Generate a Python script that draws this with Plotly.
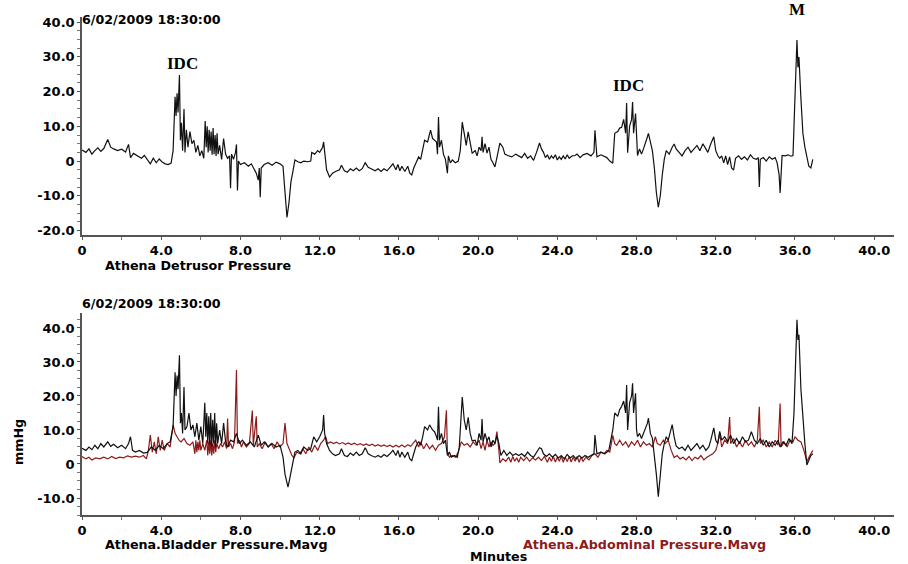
import plotly.graph_objects as go

# ---------------- data (minutes, mmHg) ----------------
det_pts = [
(0.0,3.2),(0.2,2.5),(0.35,3.5),(0.5,2.0),(0.65,3.0),(0.8,3.8),(0.95,2.8),(1.1,3.6),(1.3,6.2),(1.45,4.0),
(1.6,3.5),(1.8,3.0),(2.0,3.4),(2.2,2.6),(2.35,4.8),(2.45,1.0),(2.6,2.2),(2.8,1.5),(3.0,0.8),(3.15,1.6),
(3.3,0.2),(3.45,-0.8),(3.6,0.8),(3.75,-0.5),(3.9,0.6),(4.05,-0.3),(4.2,-0.8),(4.35,-1.0),(4.5,-0.6),(4.6,3.0),
(4.7,18.5),(4.75,13.0),(4.8,19.5),(4.85,14.0),(4.92,24.8),(4.97,6.0),(5.02,11.0),(5.08,3.0),(5.15,15.0),(5.2,2.5),
(5.27,9.0),(5.35,4.0),(5.45,8.5),(5.55,5.0),(5.65,6.0),(5.75,2.5),(5.85,4.5),(5.95,1.5),(6.05,3.0),(6.15,0.8),
(6.22,11.5),(6.27,4.0),(6.32,10.0),(6.37,2.5),(6.42,9.0),(6.47,3.0),(6.52,8.5),(6.57,1.8),(6.62,9.5),(6.67,2.0),
(6.72,7.5),(6.77,1.5),(6.82,8.0),(6.87,2.0),(6.95,4.5),(7.05,0.5),(7.15,6.5),(7.25,2.0),(7.35,0.8),(7.45,1.5),
(7.5,-7.8),(7.55,2.0),(7.65,0.5),(7.75,2.5),(7.8,4.8),(7.85,-8.5),(7.9,0.0),(8.0,-1.0),(8.2,-0.5),(8.4,-1.5),
(8.55,-0.8),(8.7,-2.5),(8.8,-3.5),(8.9,-5.5),(8.95,-2.0),(9.0,-10.4),(9.05,-2.0),(9.2,-1.0),(9.4,-0.5),(9.6,-1.2),
(9.8,-0.3),(10.0,-0.8),(10.15,-1.5),(10.25,-9.0),(10.35,-16.2),(10.45,-12.0),(10.55,-6.0),(10.65,-3.0),(10.75,0.3),(10.9,-0.2),
(11.05,-0.5),(11.2,0.0),(11.4,-0.2),(11.55,0.0),(11.6,2.5),(11.75,2.0),(11.9,3.0),(12.0,2.5),(12.15,4.0),(12.2,5.5),
(12.25,3.0),(12.35,-2.5),(12.5,-4.6),(12.65,-3.5),(12.8,-3.0),(13.0,-2.5),(13.1,-1.2),(13.25,-2.8),(13.4,-3.2),(13.55,-2.2),
(13.7,-2.8),(13.85,-2.0),(14.0,-2.8),(14.15,-2.2),(14.3,-0.5),(14.45,-1.8),(14.6,-2.2),(14.8,-2.8),(14.95,-2.2),(15.1,-3.0),
(15.25,-2.2),(15.4,-2.8),(15.55,-1.8),(15.7,-0.8),(15.85,-2.5),(15.95,-1.0),(16.05,-2.8),(16.15,-1.5),(16.3,-3.0),(16.45,-1.5),
(16.55,-3.5),(16.65,-4.0),(16.75,-2.0),(16.85,-0.5),(17.0,1.2),(17.1,0.5),(17.2,3.0),(17.3,6.0),(17.45,5.5),(17.6,8.9),
(17.7,6.5),(17.8,6.0),(17.9,5.5),(17.95,2.0),(18.0,12.7),(18.05,4.0),(18.15,6.0),(18.25,2.0),(18.35,0.5),(18.45,-3.5),
(18.5,1.5),(18.6,-0.5),(18.7,0.3),(18.85,-0.5),(19.0,0.0),(19.1,3.0),(19.2,11.2),(19.3,8.0),(19.4,4.5),(19.5,8.4),
(19.6,5.0),(19.7,2.2),(19.85,3.0),(19.95,1.5),(20.05,4.0),(20.15,3.0),(20.2,7.0),(20.25,2.5),(20.35,5.0),(20.45,2.3),
(20.55,4.0),(20.65,0.5),(20.75,-0.5),(20.85,-1.7),(20.95,1.0),(21.1,5.2),(21.25,4.0),(21.35,2.0),(21.5,1.6),(21.7,1.2),
(21.9,2.0),(22.05,1.5),(22.2,1.0),(22.35,2.2),(22.5,0.8),(22.65,1.5),(22.8,0.2),(22.95,2.5),(23.1,5.2),(23.2,3.5),
(23.3,2.5),(23.4,1.0),(23.5,1.8),(23.6,0.5),(23.7,1.5),(23.8,0.8),(23.9,1.8),(24.0,0.3),(24.1,1.2),(24.2,0.5),
(24.3,1.5),(24.4,0.6),(24.5,1.8),(24.6,0.8),(24.75,1.5),(24.9,1.6),(25.0,2.0),(25.15,1.0),(25.3,1.8),(25.5,2.2),
(25.7,1.5),(25.85,2.5),(25.9,8.9),(25.95,5.0),(26.0,1.2),(26.2,1.8),(26.35,1.4),(26.5,1.0),(26.65,0.0),(26.8,-0.6),
(26.9,8.0),(27.05,8.5),(27.15,9.5),(27.25,9.7),(27.35,12.0),(27.45,8.0),(27.5,16.7),(27.55,2.4),(27.65,10.0),(27.75,12.0),
(27.8,17.0),(27.85,8.0),(27.95,13.7),(28.0,4.0),(28.05,1.6),(28.15,3.5),(28.25,2.0),(28.35,3.5),(28.45,5.0),(28.55,7.0),
(28.6,8.0),(28.7,5.0),(28.8,3.0),(28.9,-2.0),(29.0,-9.0),(29.1,-13.3),(29.2,-10.0),(29.3,-4.0),(29.4,0.5),(29.5,3.0),
(29.65,2.0),(29.8,4.0),(29.9,4.9),(30.0,3.5),(30.15,2.6),(30.3,1.5),(30.45,3.0),(30.6,4.0),(30.75,2.5),(30.9,3.5),
(31.05,4.5),(31.2,3.0),(31.35,5.0),(31.5,3.5),(31.6,2.5),(31.75,5.0),(31.9,7.0),(32.0,3.0),(32.1,1.6),(32.2,0.8),
(32.3,1.5),(32.4,-0.5),(32.5,1.5),(32.6,-1.0),(32.7,1.2),(32.8,-2.0),(32.9,-2.6),(33.0,0.8),(33.15,1.5),(33.3,0.5),
(33.45,1.2),(33.6,0.3),(33.75,1.8),(33.9,0.8),(34.05,0.5),(34.15,1.0),(34.2,-7.5),(34.25,0.5),(34.4,1.0),(34.55,0.0),
(34.7,1.2),(34.85,0.5),(35.0,1.0),(35.1,-0.5),(35.2,-4.0),(35.25,-9.2),(35.3,-2.0),(35.35,1.6),(35.5,1.5),(35.65,1.8),
(35.8,1.4),(35.9,1.6),(35.95,10.0),(36.05,25.0),(36.1,34.9),(36.15,27.0),(36.2,30.0),(36.3,18.0),(36.4,8.0),(36.5,4.0),
(36.6,0.8),(36.7,-1.5),(36.8,-2.0),(36.9,0.5)]

bla_pts = [
(0.0,4.6),(0.2,4.0),(0.35,5.0),(0.5,4.2),(0.65,5.5),(0.8,4.5),(0.95,6.0),(1.1,5.0),(1.3,6.5),(1.45,5.2),
(1.6,5.8),(1.8,4.8),(2.0,5.5),(2.2,4.5),(2.35,6.0),(2.45,8.0),(2.55,4.0),(2.7,3.5),(2.9,4.0),(3.1,3.2),
(3.3,3.4),(3.5,5.0),(3.7,4.0),(3.9,5.5),(4.1,4.5),(4.3,6.0),(4.45,6.5),(4.6,11.0),(4.7,27.0),(4.75,20.0),
(4.8,26.0),(4.85,22.0),(4.92,32.0),(4.97,12.0),(5.02,15.0),(5.08,9.0),(5.15,22.6),(5.2,10.0),(5.3,11.0),(5.4,15.0),
(5.5,10.0),(5.6,11.5),(5.7,8.0),(5.8,12.0),(5.9,7.0),(6.0,11.0),(6.1,6.0),(6.2,18.0),(6.25,8.0),(6.3,15.0),
(6.35,6.0),(6.4,14.0),(6.45,5.5),(6.5,15.0),(6.55,5.0),(6.6,13.0),(6.65,6.0),(6.7,15.0),(6.75,5.0),(6.8,12.0),
(6.85,6.0),(6.95,10.0),(7.05,6.0),(7.15,12.0),(7.25,6.5),(7.35,5.0),(7.5,7.0),(7.65,6.5),(7.8,9.0),(7.95,6.0),
(8.1,7.0),(8.3,5.5),(8.5,6.5),(8.7,5.0),(8.9,8.5),(9.05,5.5),(9.2,6.5),(9.4,5.0),(9.6,6.0),(9.8,5.0),
(10.0,5.5),(10.15,2.0),(10.25,-3.0),(10.4,-6.8),(10.5,-4.0),(10.6,-1.0),(10.75,3.5),(10.9,4.0),(11.05,3.0),(11.2,5.0),
(11.4,4.0),(11.55,4.5),(11.7,8.0),(11.85,6.5),(12.0,8.0),(12.15,10.0),(12.2,14.4),(12.25,9.0),(12.35,6.0),(12.5,4.0),
(12.65,3.0),(12.8,2.5),(13.0,3.0),(13.1,4.5),(13.25,2.5),(13.4,2.2),(13.55,3.2),(13.7,2.5),(13.85,3.5),(14.0,2.5),
(14.15,3.0),(14.3,4.8),(14.45,3.0),(14.6,2.5),(14.8,2.0),(14.95,2.5),(15.1,2.0),(15.25,2.8),(15.4,2.2),(15.55,3.0),
(15.7,4.0),(15.85,2.5),(15.95,4.0),(16.05,2.0),(16.15,3.5),(16.3,2.0),(16.45,3.5),(16.55,1.5),(16.65,1.0),(16.75,3.0),
(16.85,5.0),(17.0,6.6),(17.1,5.5),(17.2,8.0),(17.3,11.0),(17.45,10.0),(17.55,11.5),(17.7,10.0),(17.8,9.5),(17.9,8.0),
(17.95,7.0),(18.0,16.8),(18.05,7.0),(18.15,9.0),(18.25,6.0),(18.35,7.0),(18.45,2.5),(18.55,3.5),(18.65,2.0),(18.8,2.5),
(18.95,2.0),(19.05,5.0),(19.2,19.7),(19.3,13.0),(19.4,10.0),(19.5,13.7),(19.6,9.0),(19.7,6.8),(19.85,7.0),(19.95,5.5),
(20.05,9.0),(20.15,7.0),(20.2,13.2),(20.25,6.5),(20.35,9.0),(20.45,6.8),(20.55,8.0),(20.65,5.0),(20.75,7.0),(20.85,6.0),
(20.95,8.3),(21.05,6.0),(21.15,2.5),(21.3,4.0),(21.45,2.5),(21.6,3.5),(21.75,2.5),(21.9,3.0),(22.05,2.5),(22.2,3.0),
(22.35,2.2),(22.5,3.5),(22.65,2.5),(22.8,2.0),(22.95,3.5),(23.1,4.8),(23.2,4.5),(23.3,3.0),(23.45,2.2),(23.6,3.0),
(23.75,2.0),(23.9,2.8),(24.05,1.8),(24.2,2.5),(24.35,1.5),(24.5,2.8),(24.65,1.8),(24.8,2.5),(24.95,1.5),(25.1,2.5),
(25.25,1.8),(25.4,2.5),(25.55,2.0),(25.7,2.5),(25.85,3.0),(25.9,8.5),(25.95,6.0),(26.0,3.0),(26.2,3.5),(26.4,3.0),
(26.6,4.0),(26.8,10.0),(26.9,15.0),(27.05,14.0),(27.15,16.0),(27.25,17.0),(27.35,18.5),(27.45,15.0),(27.5,23.2),(27.55,10.0),
(27.65,18.0),(27.75,20.0),(27.8,23.7),(27.85,15.0),(27.95,20.8),(28.0,10.0),(28.05,8.0),(28.15,9.0),(28.25,7.5),(28.35,9.0),
(28.45,10.0),(28.55,12.0),(28.6,13.5),(28.7,9.0),(28.8,7.6),(28.9,3.0),(29.0,-3.0),(29.1,-9.6),(29.2,-3.0),(29.3,3.0),
(29.4,6.0),(29.5,8.0),(29.6,7.0),(29.7,9.0),(29.8,11.6),(29.9,8.0),(30.0,5.3),(30.15,4.5),(30.3,5.0),(30.45,4.0),
(30.6,5.5),(30.75,4.0),(30.9,5.0),(31.05,6.0),(31.2,4.5),(31.35,5.5),(31.5,4.0),(31.65,5.0),(31.75,7.0),(31.9,10.6),
(32.0,7.0),(32.1,6.0),(32.2,9.6),(32.3,7.0),(32.45,8.0),(32.6,6.5),(32.75,8.5),(32.9,6.0),(33.05,7.5),(33.2,6.0),
(33.35,8.0),(33.5,6.5),(33.65,7.0),(33.8,9.5),(33.95,7.0),(34.1,6.0),(34.25,7.5),(34.4,5.5),(34.55,7.0),(34.7,5.0),
(34.85,6.5),(35.0,5.5),(35.15,7.0),(35.25,5.0),(35.4,6.5),(35.55,5.5),(35.7,7.5),(35.85,6.0),(35.95,15.0),(36.05,33.0),
(36.1,42.4),(36.15,36.5),(36.2,38.0),(36.3,22.0),(36.4,13.4),(36.5,6.0),(36.6,-0.3),(36.7,1.0),(36.8,2.5),(36.9,3.0)]

abd_pts = [
(0.0,2.2),(0.2,1.5),(0.35,2.0),(0.5,1.2),(0.7,1.8),(0.9,1.5),(1.1,2.0),(1.3,1.5),(1.5,2.2),(1.7,1.6),
(1.9,2.0),(2.1,1.8),(2.3,2.4),(2.5,2.0),(2.7,2.3),(2.9,2.0),(3.1,2.5),(3.25,1.5),(3.35,4.0),(3.45,8.5),
(3.55,3.5),(3.65,6.5),(3.75,3.0),(3.85,8.0),(3.95,4.0),(4.05,7.0),(4.15,4.0),(4.3,6.0),(4.45,5.0),(4.6,11.5),
(4.7,9.0),(4.8,8.0),(4.9,7.0),(5.0,6.5),(5.15,7.5),(5.3,6.0),(5.45,5.5),(5.6,6.5),(5.7,3.0),(5.75,7.0),
(5.8,3.5),(5.85,6.5),(5.9,4.0),(5.95,7.0),(6.0,4.0),(6.1,6.0),(6.2,4.0),(6.3,7.0),(6.35,2.5),(6.4,6.5),
(6.45,3.0),(6.5,7.0),(6.55,2.5),(6.6,6.0),(6.65,3.0),(6.7,7.0),(6.75,3.5),(6.8,6.0),(6.9,4.5),(7.0,6.0),
(7.1,5.0),(7.2,6.5),(7.3,4.5),(7.35,13.4),(7.4,5.0),(7.5,6.0),(7.6,4.5),(7.7,6.5),(7.8,27.6),(7.85,6.0),
(7.95,7.0),(8.05,5.0),(8.15,6.5),(8.3,5.0),(8.45,6.0),(8.6,15.7),(8.65,5.5),(8.8,14.0),(8.85,5.0),(8.95,6.0),
(9.1,4.5),(9.25,6.5),(9.4,5.0),(9.55,6.0),(9.7,4.5),(9.85,6.5),(10.0,5.0),(10.15,6.0),(10.25,12.0),(10.35,6.0),
(10.5,4.0),(10.6,2.5),(10.7,1.8),(10.85,3.5),(11.0,3.0),(11.15,4.5),(11.3,3.0),(11.45,5.0),(11.6,3.5),(11.75,5.5),
(11.9,4.0),(12.05,6.0),(12.2,7.0),(12.3,8.1),(12.4,6.0),(12.55,6.5),(12.7,6.0),(12.85,6.4),(13.0,5.9),(13.15,6.3),
(13.3,5.8),(13.45,6.2),(13.6,5.7),(13.75,6.1),(13.9,5.6),(14.05,6.0),(14.2,5.5),(14.35,5.9),(14.5,5.4),(14.65,5.8),
(14.8,5.3),(14.95,5.7),(15.1,5.2),(15.25,5.6),(15.4,5.1),(15.55,5.5),(15.7,5.0),(15.85,5.5),(16.0,5.0),(16.15,5.6),
(16.3,5.0),(16.45,5.7),(16.6,5.2),(16.7,5.8),
(16.85,7.0),(17.0,5.0),(17.1,6.5),(17.25,4.5),(17.4,6.0),(17.55,4.5),(17.7,5.5),(17.85,4.0),(18.0,5.5),(18.15,6.0),
(18.3,8.0),(18.4,15.8),(18.45,3.5),(18.55,2.0),(18.7,2.5),(18.85,2.0),(19.0,3.5),(19.15,6.5),(19.3,5.5),(19.45,6.0),
(19.6,5.0),(19.75,6.5),(19.9,5.5),(20.05,7.0),(20.15,4.5),(20.25,6.5),(20.35,4.0),(20.45,7.0),(20.55,5.0),(20.65,6.5),
(20.75,5.5),(20.85,6.0),(20.95,9.5),(21.05,4.0),(21.1,0.3),(21.25,1.5),(21.4,0.8),(21.55,2.0),(21.65,0.5),(21.75,2.2),
(21.85,0.8),(21.95,1.8),(22.05,0.5),(22.15,2.0),(22.3,1.0),(22.45,2.0),(22.6,0.8),(22.75,1.8),(22.9,1.2),(23.05,2.0),
(23.2,1.0),(23.35,2.2),(23.5,0.5),(23.6,2.0),(23.7,0.8),(23.8,2.2),(23.9,0.6),(24.0,2.0),(24.1,0.8),(24.2,2.3),
(24.3,0.5),(24.4,2.0),(24.5,0.7),(24.6,2.2),(24.7,0.6),(24.8,2.0),(24.9,0.8),(25.0,2.2),(25.1,0.5),(25.2,2.0),
(25.3,0.8),(25.45,2.0),(25.6,1.2),(25.75,2.5),(25.9,3.0),(26.05,2.0),(26.2,3.5),(26.35,3.0),(26.5,4.0),(26.65,3.5),
(26.8,8.4),(26.9,6.0),(27.0,5.5),(27.15,7.0),(27.3,5.5),(27.45,6.5),(27.6,5.0),(27.75,6.5),(27.9,5.5),(28.05,7.0),
(28.2,5.0),(28.35,6.5),(28.5,5.5),(28.65,6.0),(28.8,5.0),(28.95,8.0),(29.05,6.0),(29.2,5.5),(29.35,7.0),(29.45,6.0),
(29.6,7.0),(29.75,4.0),(29.9,1.9),(30.05,2.5),(30.2,1.5),(30.35,2.0),(30.5,1.2),(30.65,2.2),(30.8,1.0),(30.95,2.0),
(31.1,1.5),(31.25,2.5),(31.4,1.2),(31.55,2.0),(31.7,2.5),(31.85,3.0),(32.0,4.0),(32.1,6.0),(32.2,9.0),(32.3,5.0),
(32.45,7.0),(32.6,6.0),(32.7,13.8),(32.75,6.0),(32.9,7.5),(33.05,5.0),(33.2,6.5),(33.35,5.0),(33.5,7.0),(33.65,5.5),
(33.8,6.5),(33.95,5.0),(34.1,7.0),(34.2,16.8),(34.25,6.0),(34.4,7.0),(34.55,5.0),(34.7,6.5),(34.85,5.0),(35.0,7.0),
(35.15,5.5),(35.25,17.8),(35.3,5.0),(35.45,6.5),(35.6,5.0),(35.75,7.0),(35.9,6.5),(36.0,8.0),(36.15,7.0),(36.3,6.5),
(36.45,4.0),(36.6,0.7),(36.75,2.5),(36.9,4.0)]

det_t = [p[0] for p in det_pts]; det_v = [p[1] for p in det_pts]
bla_t = [p[0] for p in bla_pts]; bla_v = [p[1] for p in bla_pts]
abd_t = [p[0] for p in abd_pts]; abd_v = [p[1] for p in abd_pts]

x_tickvals = [0, 4, 8, 12, 16, 20, 24, 28, 32, 36, 40]
x_ticktext = ["0", "4.0", "8.0", "12.0", "16.0", "20.0", "24.0", "28.0", "32.0", "36.0", "40.0"]
top_yvals = [40, 30, 20, 10, 0, -10, -20]
top_ytext = ["40.0", "30.0", "20.0", "10.0", "0", "-10.0", "-20.0"]
bot_yvals = [40, 30, 20, 10, 0, -10]
bot_ytext = ["40.0", "30.0", "20.0", "10.0", "0", "-10.0"]

timestamp = "6/02/2009 18:30:00"
det_name = "Athena Detrusor Pressure"
bla_name = "Athena.Bladder Pressure.Mavg"
abd_name = "Athena.Abdominal Pressure.Mavg"

BLACK = "#111111"
RED = "#8e1b1b"
FONT = "DejaVu Sans, Liberation Sans, Arial, sans-serif"
tickfont = dict(family=FONT, size=13, color="black", weight="bold")

W, H = 908, 564
ML, MT = 82, 17
MR = W - 894
MB = H - 515

fig = go.Figure()
fig.add_trace(go.Scatter(x=det_t, y=det_v, mode="lines", line=dict(color=BLACK, width=1.2),
                         xaxis="x", yaxis="y", name=det_name))
fig.add_trace(go.Scatter(x=abd_t, y=abd_v, mode="lines", line=dict(color=RED, width=1.2),
                         xaxis="x2", yaxis="y2", name=abd_name))
fig.add_trace(go.Scatter(x=bla_t, y=bla_v, mode="lines", line=dict(color=BLACK, width=1.2),
                         xaxis="x2", yaxis="y2", name=bla_name))

axcommon = dict(showline=True, linecolor="#555555", linewidth=1.5, showgrid=False, zeroline=False,
                ticks="outside", ticklen=3, tickcolor="#555555", tickfont=tickfont, automargin=False)
xcommon = dict(axcommon, range=[0, 41], tickvals=x_tickvals, ticktext=x_ticktext,
               minor=dict(dtick=2, tick0=0, ticks="outside", ticklen=3, tickcolor="#777777"))

plot_h = H - MT - MB
plot_w = W - ML - MR
def frac(ref_y):
    return (H - MB - ref_y) / plot_h

fig.update_layout(
    width=W, height=H, paper_bgcolor="white", plot_bgcolor="white",
    margin=dict(l=ML, r=MR, t=MT, b=MB, autoexpand=False), showlegend=False,
    xaxis=dict(xcommon, domain=[0, 1], anchor="y"),
    yaxis=dict(axcommon, domain=[frac(235), 1], range=[-21.3, 41.5], tickvals=top_yvals, ticktext=top_ytext,
               anchor="x", minor=dict(dtick=2.5, tick0=0, ticks="outside", ticklen=3, tickcolor="#777777")),
    xaxis2=dict(xcommon, domain=[0, 1], anchor="y2"),
    yaxis2=dict(axcommon, domain=[0, frac(313)], range=[-15, 44.4], tickvals=bot_yvals, ticktext=bot_ytext,
                anchor="x2", minor=dict(dtick=2.5, tick0=0, ticks="outside", ticklen=3, tickcolor="#777777")),
)

lab = dict(family=FONT, size=12.7, color="black", weight="bold")
serif = dict(family="Liberation Serif, Times New Roman, serif", size=17, color="black", weight="bold")
ann = [
    dict(text=timestamp, x=80, y=19, xanchor="left", yanchor="middle", font=lab),
    dict(text=timestamp, x=80, y=303, xanchor="left", yanchor="middle", font=lab),
    dict(text=det_name, x=103, y=265, xanchor="left", yanchor="middle", font=lab),
    dict(text=bla_name, x=103, y=544, xanchor="left", yanchor="middle", font=lab),
    dict(text=abd_name, x=521, y=544, xanchor="left", yanchor="middle",
         font=dict(lab, color=RED)),
    dict(text="Minutes", x=499, y=556, xanchor="center", yanchor="middle", font=lab),
    dict(text="mmHg", x=18, y=442, xanchor="center", yanchor="middle", textangle=-90, font=lab),
    dict(text="M", x=797, y=9, xanchor="center", yanchor="middle", font=serif),
]
annotations = []
for a in ann:
    # window pixel positions -> paper coords
    px, py = a.pop("x"), a.pop("y")
    a.update(xref="paper", yref="paper", showarrow=False,
             x=(px - ML) / plot_w, y=(H - MB - py) / plot_h)
    annotations.append(a)

annotations += [
    dict(text="IDC", x=5.05, y=28.2, xref="x", yref="y", showarrow=False, font=serif),
    dict(text="IDC", x=27.6, y=21.9, xref="x", yref="y", showarrow=False, font=serif),
]
fig.update_layout(annotations=annotations)

# remove the browser's default 8px page margin so the figure fills the window
fig.write_html("out.html", config={"displayModeBar": False},
               post_script="document.body.style.margin='0px';")
